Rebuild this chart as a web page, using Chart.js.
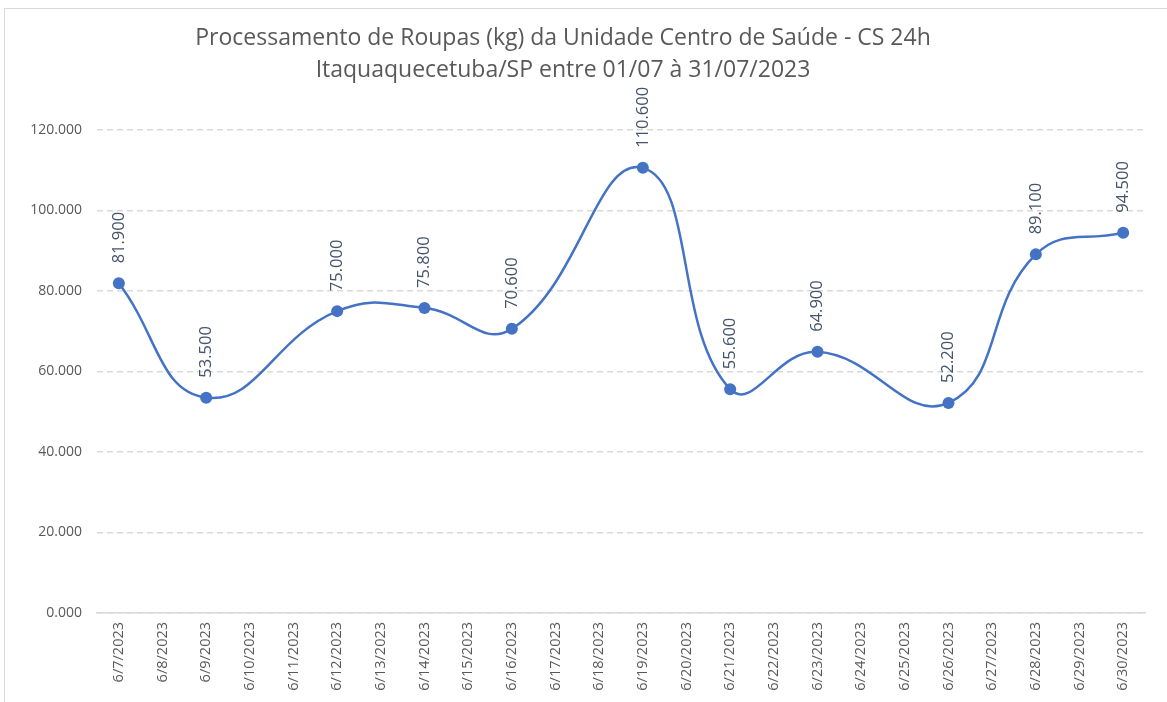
<!DOCTYPE html>
<html>
<head>
<meta charset="utf-8">
<script src="https://cdn.jsdelivr.net/npm/chart.js@4.4.0/dist/chart.umd.min.js"></script>
<style>
  html, body { margin: 0; padding: 0; background: #ffffff; }
  #wrap { position: relative; width: 1167px; height: 702px; }
</style>
</head>
<body>
<div id="wrap"><canvas id="chart"></canvas></div>
<script>
// Chart data
const titleLines = [
    'Processamento de Roupas (kg) da Unidade Centro de Saúde - CS 24h',
    'Itaquaquecetuba/SP entre 01/07 à 31/07/2023'
];
const dayLabels = [
    '6/7/2023', '6/8/2023', '6/9/2023', '6/10/2023', '6/11/2023', '6/12/2023',
    '6/13/2023', '6/14/2023', '6/15/2023', '6/16/2023', '6/17/2023', '6/18/2023',
    '6/19/2023', '6/20/2023', '6/21/2023', '6/22/2023', '6/23/2023', '6/24/2023',
    '6/25/2023', '6/26/2023', '6/27/2023', '6/28/2023', '6/29/2023', '6/30/2023'
];
const measuredDays = ['6/7/2023', '6/9/2023', '6/12/2023', '6/14/2023', '6/16/2023', '6/19/2023',
    '6/21/2023', '6/23/2023', '6/26/2023', '6/28/2023', '6/30/2023'];
const kgValues = [81.9, 53.5, 75.0, 75.8, 70.6, 110.6, 55.6, 64.9, 52.2, 89.1, 94.5];
const yTicks = [0, 20, 40, 60, 80, 100, 120];

// One value per category, null where nothing was measured
const seriesData = dayLabels.map(d => {
    const i = measuredDays.indexOf(d);
    return i === -1 ? null : kgValues[i];
});

const fmt = v => v.toFixed(3);

const framePlugin = {
    id: 'frame',
    beforeDraw(chart) {
        const ctx = chart.ctx;
        ctx.save();
        ctx.strokeStyle = '#d9d9d9';
        ctx.lineWidth = 1;
        ctx.strokeRect(4.5, 8.5, 1200, 720);
        ctx.restore();
    }
};

const titlePlugin = {
    id: 'excelTitle',
    afterDraw(chart) {
        const ctx = chart.ctx;
        ctx.save();
        ctx.fillStyle = '#595959';
        ctx.font = '23px "Open Sans", sans-serif';
        ctx.textAlign = 'center';
        ctx.textBaseline = 'middle';
        ctx.fillText(titleLines[0], 563, 38);
        ctx.fillText(titleLines[1], 563, 70);
        ctx.restore();
    }
};

const valueLabels = {
    id: 'valueLabels',
    afterDatasetsDraw(chart) {
        const ctx = chart.ctx;
        const meta = chart.getDatasetMeta(0);
        ctx.save();
        ctx.fillStyle = '#44546a';
        ctx.font = '16.5px "Open Sans", sans-serif';
        ctx.textAlign = 'left';
        ctx.textBaseline = 'middle';
        meta.data.forEach((pt, i) => {
            const v = seriesData[i];
            if (v === null) return;
            ctx.save();
            ctx.translate(pt.x, pt.y - 20);
            ctx.rotate(-Math.PI / 2);
            ctx.fillText(fmt(v), 0, 0);
            ctx.restore();
        });
        ctx.restore();
    }
};

new Chart(document.getElementById('chart'), {
    type: 'line',
    data: {
        labels: dayLabels,
        datasets: [{
            data: seriesData,
            borderColor: '#4472c4',
            backgroundColor: '#4472c4',
            borderWidth: 2.5,
            pointRadius: 6,
            pointHoverRadius: 6,
            pointBorderWidth: 0,
            tension: 0.45,
            spanGaps: true,
            fill: false
        }]
    },
    options: {
        responsive: true,
        maintainAspectRatio: false,
        animation: false,
        layout: { padding: { top: 130, right: 22, left: 0, bottom: 0 } },
        plugins: {
            legend: { display: false },
            title: { display: false },
            tooltip: { enabled: false }
        },
        scales: {
            x: {
                offset: true,
                grid: { display: false, drawTicks: false },
                border: { display: true, color: '#d9d9d9', width: 1.5 },
                ticks: {
                    color: '#595959',
                    font: { family: '"Open Sans", sans-serif', size: 14.5 },
                    minRotation: 90,
                    maxRotation: 90,
                    autoSkip: false,
                    padding: 9
                },
                afterFit(scale) { scale.height = 89; }
            },
            y: {
                min: 0,
                max: 120,
                afterBuildTicks(scale) { scale.ticks = yTicks.map(v => ({ value: v })); },
                grid: { color: '#d9d9d9', lineWidth: 1.5, drawTicks: false },
                border: { display: false, dash: [6, 4] },
                ticks: {
                    color: '#595959',
                    font: { family: '"Open Sans", sans-serif', size: 14 },
                    padding: 15,
                    callback: v => fmt(v)
                },
                afterFit(scale) { scale.width = 97; }
            }
        }
    },
    plugins: [framePlugin, titlePlugin, valueLabels]
});
</script>
</body>
</html>
